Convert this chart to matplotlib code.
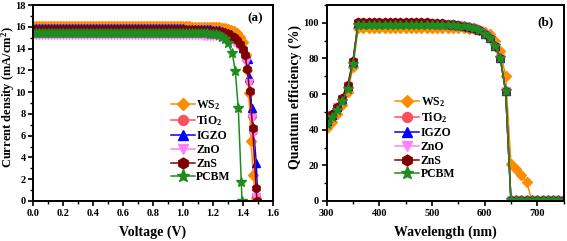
import matplotlib
matplotlib.use("Agg")
import matplotlib.pyplot as plt
from matplotlib.ticker import MultipleLocator

plt.rcParams['font.family'] = ['Liberation Serif', 'DejaVu Serif']
plt.rcParams['font.weight'] = 'bold'
plt.rcParams['mathtext.fontset'] = 'custom'
plt.rcParams['mathtext.rm'] = 'Liberation Serif:bold'
plt.rcParams['mathtext.it'] = 'Liberation Serif:bold'
plt.rcParams['mathtext.bf'] = 'Liberation Serif:bold'

# ---------------- Panel (a): J-V data ----------------
V_flat = [0.00, 0.02, 0.04, 0.06, 0.08, 0.10, 0.12, 0.14, 0.16, 0.18,
          0.20, 0.22, 0.24, 0.26, 0.28, 0.30, 0.32, 0.34, 0.36, 0.38,
          0.40, 0.42, 0.44, 0.46, 0.48, 0.50, 0.52, 0.54, 0.56, 0.58,
          0.60, 0.62, 0.64, 0.66, 0.68, 0.70, 0.72, 0.74, 0.76, 0.78,
          0.80, 0.82, 0.84, 0.86, 0.88, 0.90, 0.92, 0.94, 0.96, 0.98,
          1.00, 1.02, 1.04, 1.06, 1.08, 1.10, 1.12, 1.14, 1.16, 1.18,
          1.20]

WS2_J_flat = [16.05, 16.05, 16.05, 16.05, 16.05, 16.05, 16.05, 16.05, 16.05, 16.05,
              16.05, 16.05, 16.05, 16.05, 16.05, 16.05, 16.05, 16.05, 16.05, 16.05,
              16.05, 16.05, 16.05, 16.05, 16.05, 16.05, 16.05, 16.05, 16.05, 16.05,
              16.05, 16.05, 16.05, 16.05, 16.05, 16.05, 16.05, 16.05, 16.05, 16.05,
              16.05, 16.05, 16.05, 16.05, 16.05, 16.05, 16.05, 16.05, 16.05, 16.05,
              16.05, 16.04, 16.04, 16.03, 16.03, 16.02, 16.02, 16.01, 16.00, 15.99,
              15.98]
TiO2_J_flat = [15.55, 15.55, 15.55, 15.55, 15.55, 15.55, 15.55, 15.55, 15.55, 15.55,
               15.55, 15.55, 15.55, 15.55, 15.55, 15.55, 15.55, 15.55, 15.55, 15.55,
               15.55, 15.55, 15.55, 15.55, 15.55, 15.55, 15.55, 15.55, 15.55, 15.55,
               15.55, 15.55, 15.55, 15.55, 15.55, 15.55, 15.55, 15.55, 15.55, 15.55,
               15.55, 15.55, 15.55, 15.55, 15.55, 15.55, 15.55, 15.55, 15.55, 15.55,
               15.55, 15.54, 15.54, 15.53, 15.53, 15.52, 15.51, 15.50, 15.49, 15.47,
               15.45]
IGZO_J_flat = [15.85, 15.85, 15.85, 15.85, 15.85, 15.85, 15.85, 15.85, 15.85, 15.85,
               15.85, 15.85, 15.85, 15.85, 15.85, 15.85, 15.85, 15.85, 15.85, 15.85,
               15.85, 15.85, 15.85, 15.85, 15.85, 15.85, 15.85, 15.85, 15.85, 15.85,
               15.85, 15.85, 15.85, 15.85, 15.85, 15.85, 15.85, 15.85, 15.85, 15.85,
               15.85, 15.85, 15.85, 15.85, 15.85, 15.85, 15.85, 15.85, 15.85, 15.85,
               15.85, 15.84, 15.84, 15.83, 15.83, 15.82, 15.81, 15.80, 15.79, 15.77,
               15.75]
ZnO_J_flat = [15.25, 15.25, 15.25, 15.25, 15.25, 15.25, 15.25, 15.25, 15.25, 15.25,
              15.25, 15.25, 15.25, 15.25, 15.25, 15.25, 15.25, 15.25, 15.25, 15.25,
              15.25, 15.25, 15.25, 15.25, 15.25, 15.25, 15.25, 15.25, 15.25, 15.25,
              15.25, 15.25, 15.25, 15.25, 15.25, 15.25, 15.25, 15.25, 15.25, 15.25,
              15.25, 15.25, 15.25, 15.25, 15.25, 15.25, 15.25, 15.25, 15.25, 15.25,
              15.25, 15.24, 15.24, 15.23, 15.23, 15.22, 15.21, 15.20, 15.19, 15.17,
              15.15]
ZnS_J_flat = [15.70, 15.70, 15.70, 15.70, 15.70, 15.70, 15.70, 15.70, 15.70, 15.70,
              15.70, 15.70, 15.70, 15.70, 15.70, 15.70, 15.70, 15.70, 15.70, 15.70,
              15.70, 15.70, 15.70, 15.70, 15.70, 15.70, 15.70, 15.70, 15.70, 15.70,
              15.70, 15.70, 15.70, 15.70, 15.70, 15.70, 15.70, 15.70, 15.70, 15.70,
              15.70, 15.70, 15.70, 15.70, 15.70, 15.70, 15.70, 15.70, 15.70, 15.70,
              15.70, 15.69, 15.69, 15.68, 15.68, 15.67, 15.66, 15.65, 15.64, 15.62,
              15.60]
PCBM_J_flat = [15.45, 15.45, 15.45, 15.45, 15.45, 15.45, 15.45, 15.45, 15.45, 15.45,
               15.45, 15.45, 15.45, 15.45, 15.45, 15.45, 15.45, 15.45, 15.45, 15.45,
               15.45, 15.45, 15.45, 15.45, 15.45, 15.45, 15.45, 15.45, 15.45, 15.45,
               15.45, 15.45, 15.45, 15.45, 15.45, 15.45, 15.45, 15.45, 15.45, 15.45,
               15.45, 15.45, 15.45, 15.45, 15.45, 15.45, 15.45, 15.45, 15.45, 15.45,
               15.45, 15.44, 15.44, 15.43, 15.43, 15.42, 15.41, 15.40, 15.39, 15.37,
               15.35]

WS2_V_tail = [1.22, 1.24, 1.26, 1.28, 1.30, 1.32, 1.34, 1.36, 1.38, 1.40, 1.42, 1.43, 1.44, 1.455, 1.47, 1.485]
WS2_J_tail = [15.97, 15.95, 15.92, 15.88, 15.82, 15.73, 15.60, 15.40, 15.05, 14.60, 13.40, 12.00, 9.90, 5.50, 2.40, 0.30]
TiO2_V_tail = [1.22, 1.24, 1.26, 1.28, 1.30, 1.32, 1.34, 1.36, 1.38, 1.40, 1.42, 1.44, 1.46, 1.47, 1.49]
TiO2_J_tail = [15.42, 15.38, 15.33, 15.27, 15.18, 15.06, 14.90, 14.68, 14.35, 13.90, 13.00, 11.00, 7.80, 6.40, 0.50]
IGZO_V_tail = [1.22, 1.24, 1.26, 1.28, 1.30, 1.32, 1.34, 1.36, 1.38, 1.40, 1.42, 1.437, 1.444, 1.46, 1.49, 1.50]
IGZO_J_tail = [15.72, 15.68, 15.62, 15.55, 15.45, 15.30, 15.10, 14.85, 14.50, 14.05, 13.50, 13.00, 11.40, 8.50, 3.50, 0.00]
ZnO_V_tail = [1.22, 1.24, 1.26, 1.28, 1.30, 1.32, 1.34, 1.36, 1.38, 1.40, 1.42, 1.44, 1.46, 1.47, 1.49]
ZnO_J_tail = [15.12, 15.08, 15.03, 14.97, 14.90, 14.80, 14.65, 14.45, 14.15, 13.70, 12.80, 10.80, 7.60, 6.20, 0.40]
ZnS_V_tail = [1.22, 1.24, 1.26, 1.28, 1.30, 1.32, 1.34, 1.36, 1.38, 1.40, 1.415, 1.43, 1.445, 1.466, 1.489, 1.495]
ZnS_J_tail = [15.57, 15.53, 15.48, 15.42, 15.33, 15.20, 15.02, 14.78, 14.45, 13.95, 13.40, 12.10, 10.10, 6.70, 1.20, 0.00]
PCBM_V_tail = [1.22, 1.24, 1.26, 1.28, 1.30, 1.33, 1.35, 1.37, 1.39, 1.395]
PCBM_J_tail = [15.30, 15.22, 15.10, 14.85, 14.50, 13.56, 11.90, 8.50, 1.70, 0.00]

# ---------------- Panel (b): EQE data ----------------
wavelength = [300, 310, 320, 330, 340, 350, 360, 370, 380, 390,
              400, 410, 420, 430, 440, 450, 460, 470, 480, 490,
              500, 510, 520, 530, 540, 550, 560, 570, 580, 590,
              600, 610, 620, 630, 640, 650, 660, 670, 680, 690,
              700, 710, 720, 730, 740, 750]

WS2_QE = [41.0, 44.5, 49.0, 54.0, 61.0, 75.0, 97.0, 97.0, 97.0, 97.0,
          97.0, 97.0, 97.0, 97.0, 97.0, 97.0, 97.0, 97.0, 97.0, 97.0,
          97.0, 97.0, 97.0, 97.0, 97.0, 97.0, 97.0, 96.8, 96.5, 96.0,
          95.0, 93.5, 90.0, 84.0, 70.0, 21.0, 18.0, 14.5, 10.5, 0.0,
          0.0, 0.0, 0.0, 0.0, 0.0, 0.0]
TiO2_QE = [45.0, 48.5, 52.5, 57.5, 64.5, 78.0, 100.0, 100.0, 100.0, 100.0,
           100.0, 100.0, 100.0, 100.0, 100.0, 100.0, 100.0, 100.0, 100.0, 100.0,
           99.8, 99.6, 99.4, 99.2, 99.0, 98.7, 98.4, 97.9, 97.2, 96.0,
           94.0, 91.5, 87.0, 80.0, 61.5, 0.5, 0.5, 0.5, 0.5, 0.5,
           0.5, 0.5, 0.5, 0.5, 0.5, 0.5]
IGZO_QE = [45.0, 48.5, 52.5, 57.5, 64.5, 78.0, 100.0, 100.0, 100.0, 100.0,
           100.0, 100.0, 100.0, 100.0, 100.0, 100.0, 100.0, 100.0, 100.0, 100.0,
           99.8, 99.6, 99.4, 99.2, 99.0, 98.7, 98.4, 97.9, 97.2, 96.0,
           94.0, 91.5, 87.0, 80.0, 61.5, 0.5, 0.5, 0.5, 0.5, 0.5,
           0.5, 0.5, 0.5, 0.5, 0.5, 0.5]
ZnO_QE = [45.0, 48.5, 52.5, 57.5, 64.5, 78.0, 100.0, 100.0, 100.0, 100.0,
          100.0, 100.0, 100.0, 100.0, 100.0, 100.0, 100.0, 100.0, 100.0, 100.0,
          99.8, 99.6, 99.4, 99.2, 99.0, 98.7, 98.4, 97.9, 97.2, 96.0,
          94.0, 91.5, 87.0, 80.0, 61.5, 0.5, 0.5, 0.5, 0.5, 0.5,
          0.5, 0.5, 0.5, 0.5, 0.5, 0.5]
ZnS_QE = [45.5, 49.0, 53.0, 58.0, 65.0, 78.5, 100.5, 100.5, 100.5, 100.5,
          100.5, 100.5, 100.5, 100.5, 100.5, 100.5, 100.5, 100.5, 100.5, 100.5,
          100.2, 100.0, 99.7, 99.4, 99.1, 98.8, 98.4, 97.9, 97.2, 96.0,
          94.0, 91.5, 87.0, 80.0, 61.5, 0.5, 0.5, 0.5, 0.5, 0.5,
          0.5, 0.5, 0.5, 0.5, 0.5, 0.5]
PCBM_QE = [43.5, 47.0, 51.0, 56.0, 63.0, 77.0, 99.0, 99.0, 99.0, 99.0,
           99.0, 99.0, 99.0, 99.0, 99.0, 99.0, 99.0, 99.0, 99.0, 99.0,
           99.0, 99.0, 98.9, 98.8, 98.7, 98.5, 98.2, 97.8, 97.1, 96.0,
           94.0, 91.5, 87.0, 80.0, 61.5, 0.5, 0.5, 0.5, 0.5, 0.5,
           0.5, 0.5, 0.5, 0.5, 0.5, 0.5]

labels = ['WS$_2$', 'TiO$_2$', 'IGZO', 'ZnO', 'ZnS', 'PCBM']
colors = ['#FF8C00', '#FF4F5A', '#0000FF', '#FF80FF', '#800000', '#1E8C1E']
markers = ['D', 'o', '^', 'v', 'h', '*']
msizes = [5.0, 5.5, 5.5, 5.5, 6.0, 7.5]

jv_V = [V_flat + WS2_V_tail, V_flat + TiO2_V_tail, V_flat + IGZO_V_tail,
        V_flat + ZnO_V_tail, V_flat + ZnS_V_tail, V_flat + PCBM_V_tail]
jv_J = [WS2_J_flat + WS2_J_tail, TiO2_J_flat + TiO2_J_tail, IGZO_J_flat + IGZO_J_tail,
        ZnO_J_flat + ZnO_J_tail, ZnS_J_flat + ZnS_J_tail, PCBM_J_flat + PCBM_J_tail]
qe = [WS2_QE, TiO2_QE, IGZO_QE, ZnO_QE, ZnS_QE, PCBM_QE]

fig = plt.figure(figsize=(5.67, 2.41), dpi=100)
ax1 = fig.add_axes([0.0587, 0.166, 0.4223, 0.813])
ax2 = fig.add_axes([0.576, 0.166, 0.418, 0.813])

for i in range(6):
    ax1.plot(jv_V[i], jv_J[i], color=colors[i], marker=markers[i], markersize=msizes[i],
             linewidth=1.1, label=labels[i])
    ax2.plot(wavelength, qe[i], color=colors[i], marker=markers[i], markersize=msizes[i],
             linewidth=1.1, label=labels[i])

for ax in (ax1, ax2):
    for s in ax.spines.values():
        s.set_linewidth(1.4)
    ax.tick_params(which='major', direction='out', length=3.5, width=1.2, labelsize=7.5, pad=2)
    ax.tick_params(which='minor', direction='out', length=2, width=1.0)

ax1.set_xlim(0, 1.6)
ax1.set_ylim(0, 18)
ax1.xaxis.set_minor_locator(MultipleLocator(0.1))
ax1.yaxis.set_minor_locator(MultipleLocator(1))
ax1.set_xticks([0.0, 0.2, 0.4, 0.6, 0.8, 1.0, 1.2, 1.4, 1.6])
ax1.set_xticklabels(['0.0', '0.2', '0.4', '0.6', '0.8', '1.0', '1.2', '1.4', '1.6'], fontweight='bold')
ax1.set_yticks(range(0, 19, 2))
ax1.set_yticklabels([str(v) for v in range(0, 19, 2)], fontweight='bold')
ax1.set_xlabel('Voltage (V)', fontsize=10, fontweight='bold')
ax1.xaxis.set_label_coords(0.5, -0.125)
ax1.set_ylabel('Current density (mA/cm$^2$)', fontsize=9, fontweight='bold')
ax1.yaxis.set_label_coords(-0.07, 0.53)
ax1.text(0.96, 0.935, '(a)', transform=ax1.transAxes, ha='right', va='center',
         fontsize=9.5, fontweight='bold')
ax1.legend(loc='upper left', bbox_to_anchor=(0.555, 0.55), frameon=False,
           handlelength=2.0, handletextpad=0.15, labelspacing=0.15, borderaxespad=0,
           prop={'weight': 'bold', 'size': 8.5}, markerscale=1.3)

ax2.set_xlim(300, 750)
ax2.set_ylim(0, 110)
ax2.xaxis.set_minor_locator(MultipleLocator(50))
ax2.set_yticks([0, 20, 40, 60, 80, 100])
ax2.set_yticklabels(['0', '20', '40', '60', '80', '100'], fontweight='bold')
ax2.yaxis.set_minor_locator(MultipleLocator(10))
ax2.set_xticks([300, 400, 500, 600, 700])
ax2.set_xticklabels(['300', '400', '500', '600', '700'], fontweight='bold')
ax2.set_xlabel('Wavelength (nm)', fontsize=10, fontweight='bold')
ax2.xaxis.set_label_coords(0.5, -0.125)
ax2.set_ylabel('Quantum efficiency (%)', fontsize=10, fontweight='bold')
ax2.yaxis.set_label_coords(-0.104, 0.53)
ax2.text(0.96, 0.91, '(b)', transform=ax2.transAxes, ha='right', va='center',
         fontsize=9.5, fontweight='bold')
ax2.legend(loc='upper left', bbox_to_anchor=(0.27, 0.565), frameon=False,
           handlelength=2.0, handletextpad=0.15, labelspacing=0.15, borderaxespad=0,
           prop={'weight': 'bold', 'size': 8.5}, markerscale=1.3)

fig.savefig('out.png', dpi=100)
